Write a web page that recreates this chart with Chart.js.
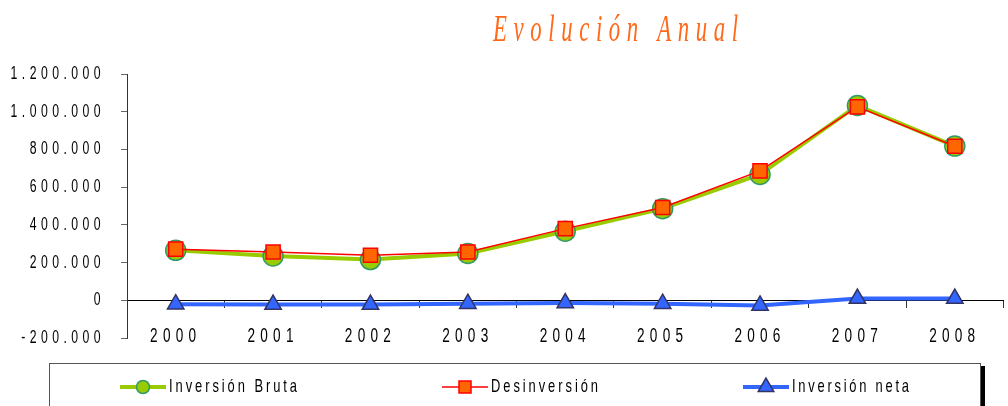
<!DOCTYPE html>
<html><head><meta charset="utf-8">
<script src="https://cdn.jsdelivr.net/npm/chart.js@4/dist/chart.umd.min.js"></script>
<style>
html,body{margin:0;padding:0;background:#fff;overflow:hidden;width:1008px;height:406px}
#c{display:block;position:absolute;left:0;top:0}
</style></head>
<body>
<canvas id="c" width="1015" height="406"></canvas>
<script>
// ---- data ----
const titleText = 'Evolución Anual';
const years = ['2000','2001','2002','2003','2004','2005','2006','2007','2008'];
const inversionBruta = [265000, 235000, 216000, 248000, 366000, 486000, 667000, 1033000, 818000];
const desinversion   = [271000, 256000, 239000, 256000, 380000, 492000, 686000, 1026000, 817000];
const inversionNeta  = [-21000, -23000, -23000, -18000, -15000, -18000, -27000, 9000, 9000];
const seriesNames = ['Inversión Bruta', 'Desinversión', 'Inversión neta'];
const yMin = -200000, yMax = 1200000, yStep = 200000;

// ---- styling ----
const FAM = '"Liberation Sans", Arial, sans-serif';
const SX = 0.68;               // horizontal condensing of text (narrow face look)
const X_SIZE = 20, Y_SIZE = 18, LEG_SIZE = 19;
const mctx = document.createElement('canvas').getContext('2d');
function spacingFor(font, text, target) {
  mctx.font = font; mctx.letterSpacing = '0px';
  const w = mctx.measureText(text).width;
  return Math.max(0, (target / SX - w) / (text.length - 1));
}
const xSpacing = spacingFor(X_SIZE + 'px ' + FAM, '2000', 46);
const ySpacing = spacingFor(Y_SIZE + 'px ' + FAM, '1.200.000', 90);

function fmt(v) {
  const s = String(Math.abs(v)).replace(/\B(?=(\d{3})+(?!\d))/g, '.');
  return (v < 0 ? '-' : '') + s;
}

const canvas = document.getElementById('c');
const cx = canvas.getContext('2d');
const origFill = cx.fillText.bind(cx);
cx.textScaleX = SX;
cx.fillText = function (text, x, y, maxW) {
  const sx = this.textScaleX;
  const ls = parseFloat(this.letterSpacing) || 0;
  if (this.textAlign === 'center') x += ls * sx / 2;
  else if (this.textAlign === 'right' || this.textAlign === 'end') x += ls * sx;
  this.save();
  this.translate(x, y);
  this.scale(sx, 1);
  origFill(text, 0, 0);
  this.restore();
};

function wrapLabels(chart, id, sp) {
  const s = chart.scales[id];
  if (!s || s._spWrapped) return;
  const o = s.drawLabels.bind(s);
  s.drawLabels = function (area) {
    const c = chart.ctx;
    const prev = c.letterSpacing;
    c.letterSpacing = sp + 'px';
    o(area);
    c.letterSpacing = prev;
  };
  s._spWrapped = true;
}

const spacingPlugin = {
  id: 'spacing',
  beforeLayout(chart) { chart.ctx.letterSpacing = xSpacing + 'px'; },
  afterUpdate(chart) { wrapLabels(chart, 'x', xSpacing); wrapLabels(chart, 'y', ySpacing); },
  beforeDraw(chart) { chart.ctx.letterSpacing = xSpacing + 'px'; }
};

const titlePlugin = {
  id: 'condTitle',
  afterDraw(chart) {
    const ctx = chart.ctx;
    ctx.save();
    const sx = 0.6;
    ctx.textScaleX = sx;
    ctx.font = 'italic 38px "Liberation Serif", "DejaVu Serif", serif';
    ctx.letterSpacing = '0px';
    const w0 = ctx.measureText(titleText).width;
    const L = (245 / sx - w0) / (titleText.length - 1);
    ctx.letterSpacing = L + 'px';
    ctx.fillStyle = '#FF6A1A';
    ctx.textAlign = 'left';
    ctx.textBaseline = 'alphabetic';
    ctx.fillText(titleText, 493, 41);
    ctx.textScaleX = SX;
    ctx.restore();
  }
};

const legendPlugin = {
  id: 'boxLegend',
  afterDraw(chart) {
    const ctx = chart.ctx;
    ctx.save();
    ctx.letterSpacing = '0px';
    ctx.strokeStyle = '#555';
    ctx.lineWidth = 1;
    ctx.strokeRect(49.5, 363.5, 931, 80);
    ctx.fillStyle = '#000';
    ctx.fillRect(981, 366, 4, 60);
    const starts = [120, 442, 743];
    const targets = [128, 107, 117];
    const cy = 387;
    chart.data.datasets.forEach((ds, i) => {
      const x0 = starts[i];
      ctx.strokeStyle = ds.borderColor;
      ctx.lineWidth = ds.borderWidth;
      ctx.beginPath(); ctx.moveTo(x0, cy); ctx.lineTo(x0 + 46, cy); ctx.stroke();
      ctx.fillStyle = ds.pointBackgroundColor;
      ctx.strokeStyle = ds.pointBorderColor;
      ctx.lineWidth = ds.pointBorderWidth;
      Chart.helpers.drawPoint(ctx, {pointStyle: ds.pointStyle, radius: ds.legendRadius, borderWidth: ds.pointBorderWidth, rotation: 0}, x0 + 23, cy);
      const font = LEG_SIZE + 'px ' + FAM;
      const L = spacingFor(font, ds.label, targets[i]);
      ctx.font = font;
      ctx.letterSpacing = L + 'px';
      ctx.fillStyle = '#000';
      ctx.textAlign = 'left';
      ctx.textBaseline = 'middle';
      ctx.fillText(ds.label, x0 + 49, cy);
    });
    ctx.restore();
  }
};

new Chart(canvas, {
  type: 'line',
  data: {
    labels: years,
    datasets: [
      {label: seriesNames[0], data: inversionBruta, borderColor: '#99CC00', borderWidth: 4,
       pointStyle: 'circle', pointRadius: 10, pointBackgroundColor: '#99CC00', pointBorderColor: '#339966',
       pointBorderWidth: 1.5, legendRadius: 6.5, order: 2, tension: 0},
      {label: seriesNames[1], data: desinversion, borderColor: '#FF0000', borderWidth: 1.5,
       pointStyle: 'rect', pointRadius: 10, pointBackgroundColor: '#FF6600', pointBorderColor: '#FF0000',
       pointBorderWidth: 1.5, legendRadius: 8.5, order: 1, tension: 0},
      {label: seriesNames[2], data: inversionNeta, borderColor: '#3366FF', borderWidth: 4,
       pointStyle: 'triangle', pointRadius: 9.5, pointBackgroundColor: '#3366FF', pointBorderColor: '#333366',
       pointBorderWidth: 1.5, legendRadius: 9, order: 0, tension: 0}
    ]
  },
  options: {
    responsive: false,
    animation: false,
    devicePixelRatio: 1,
    layout: {padding: {top: 74, bottom: 68, left: 0, right: 1}},
    plugins: {legend: {display: false}, title: {display: false}, tooltip: {enabled: false}},
    scales: {
      x: {
        type: 'category',
        position: {y: 0},
        offset: true,
        grid: {display: true, drawOnChartArea: false, drawTicks: true, tickLength: 7, color: '#333', offset: true},
        border: {display: true, color: '#000', width: 1},
        ticks: {font: {family: FAM, size: X_SIZE}, color: '#000', padding: 17, maxRotation: 0, autoSkip: false}
      },
      y: {
        min: yMin, max: yMax,
        grid: {display: true, drawOnChartArea: false, tickLength: 6, color: '#666'},
        border: {display: true, color: '#333', width: 1},
        ticks: {stepSize: yStep, callback: (v) => fmt(v), font: {family: FAM, size: Y_SIZE}, color: '#000', padding: 16},
        afterFit(s) { s.width = 127; }
      }
    }
  },
  plugins: [spacingPlugin, titlePlugin, legendPlugin]
});
</script>
</body></html>
